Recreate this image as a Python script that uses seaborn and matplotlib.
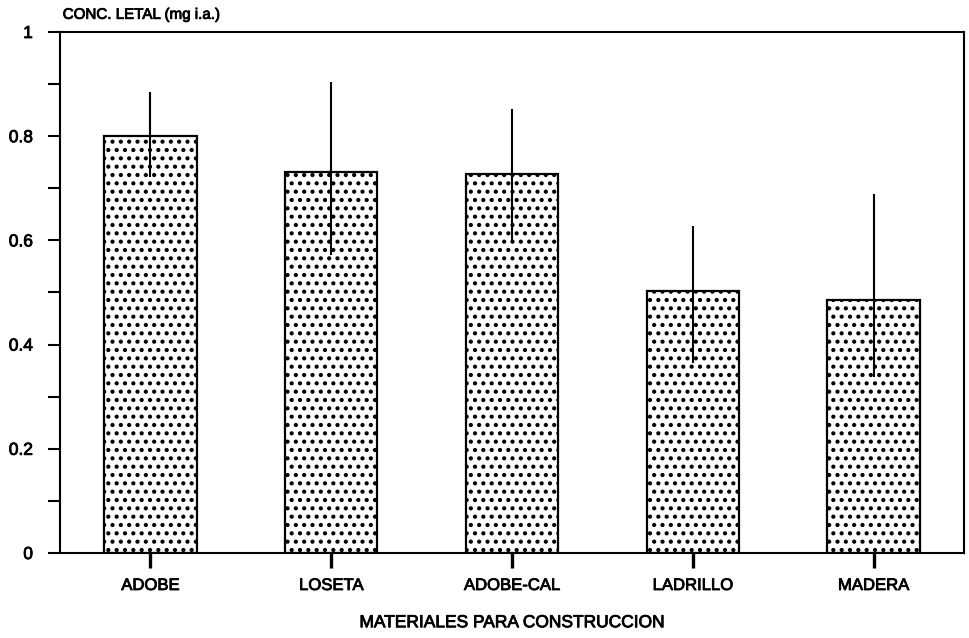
import matplotlib
matplotlib.use("Agg")
import matplotlib.pyplot as plt
import matplotlib.patheffects as pe
from matplotlib.ticker import MultipleLocator, FixedLocator, FixedFormatter
import seaborn as sns
import pandas as pd

categories = ["ADOBE", "LOSETA", "ADOBE-CAL", "LADRILLO", "MADERA"]
values = [0.800, 0.731, 0.727, 0.503, 0.486]
err_low = [0.722, 0.572, 0.599, 0.365, 0.338]
err_high = [0.885, 0.904, 0.852, 0.628, 0.689]
ytick_vals = [0, 0.2, 0.4, 0.6, 0.8, 1.0]
ytick_labels = ["0", "0.2", "0.4", "0.6", "0.8", "1"]
ylabel = "CONC. LETAL (mg i.a.)"
xlabel = "MATERIALES PARA CONSTRUCCION"

sns.set_style("white")
plt.rcParams["font.family"] = ["Liberation Sans", "DejaVu Sans"]
plt.rcParams["hatch.linewidth"] = 1.8
plt.rcParams["hatch.color"] = "black"
plt.rcParams["text.color"] = "black"
plt.rcParams["axes.labelcolor"] = "black"
plt.rcParams["xtick.color"] = "black"
plt.rcParams["ytick.color"] = "black"

heavy = [pe.withStroke(linewidth=0.6, foreground="black")]

df = pd.DataFrame({"material": categories, "conc": values})

fig = plt.figure(figsize=(9.7, 6.38), dpi=100)
ax = fig.add_axes([60 / 970, 1 - 553 / 638, 904 / 970, 521 / 638])

sns.barplot(data=df, x="material", y="conc", order=categories, ax=ax,
            color="white", edgecolor="black", linewidth=1.6, width=0.51,
            errorbar=None, hatch="..")

xs = list(range(len(categories)))
lower = [v - lo for v, lo in zip(values, err_low)]
upper = [hi - v for v, hi in zip(values, err_high)]
ax.errorbar(xs, values, yerr=[lower, upper], fmt="none", ecolor="black",
            elinewidth=1.5, capsize=0, zorder=5)

ax.set_xlim(-0.5, len(categories) - 0.5)
ax.set_ylim(0, 1)
ax.yaxis.set_major_locator(FixedLocator(ytick_vals))
ax.yaxis.set_major_formatter(FixedFormatter(ytick_labels))
ax.yaxis.set_minor_locator(MultipleLocator(0.1))

for s in ax.spines.values():
    s.set_visible(True)
    s.set_color("black")
    s.set_linewidth(1.5)

ax.tick_params(axis="y", which="both", direction="out", length=8.5, width=1.5,
               color="black", left=True, labelsize=12.5, pad=11)
ax.tick_params(axis="x", which="major", direction="out", length=11, width=2.4,
               color="black", bottom=True, labelsize=12, pad=7)

ax.set_xlabel(xlabel, fontsize=12.5, labelpad=16)
ax.set_ylabel("")
ax.text(0.003, 1.033, ylabel, transform=ax.transAxes, fontsize=10.9,
        ha="left", va="center", path_effects=heavy)
ax.xaxis.label.set_path_effects(heavy)
for lab in ax.get_xticklabels() + ax.get_yticklabels():
    lab.set_path_effects(heavy)

fig.savefig("out.png", dpi=100)
